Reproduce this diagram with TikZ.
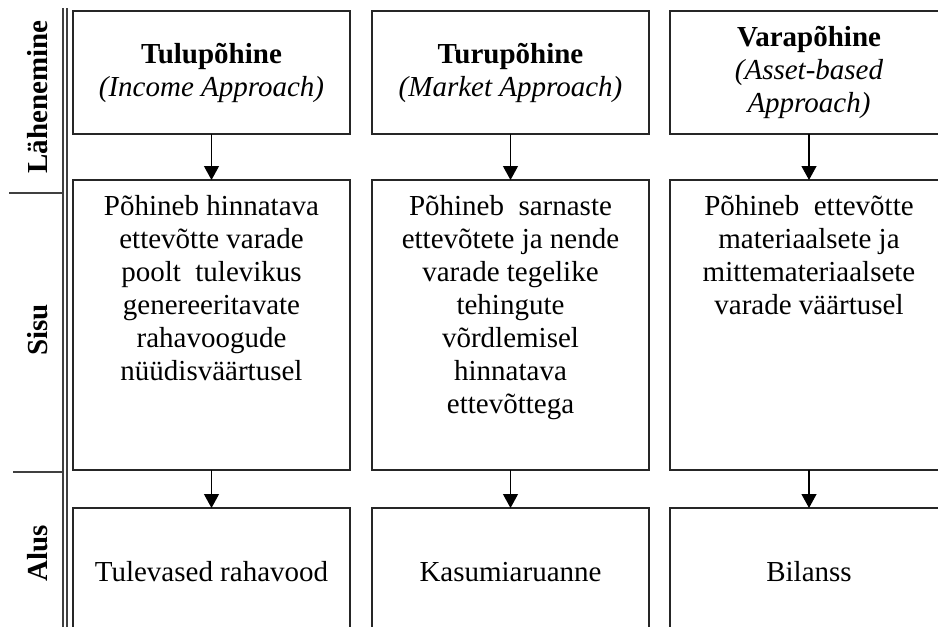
\documentclass[tikz,border=0pt]{standalone}
\usepackage{fontspec}
\setmainfont{Liberation Serif}
\usetikzlibrary{arrows.meta}
\begin{document}
\begin{tikzpicture}[x=1pt,y=-1pt,
  txt/.style={font=\fontsize{29}{33}\selectfont, text=black},
  box/.style={draw=black!85, line width=1.6pt, minimum width=277pt, inner sep=0pt, outer sep=0pt, txt, align=center},
  body/.style={txt, align=center, inner sep=0pt, anchor=north},
  lab/.style={font=\fontsize{29}{33}\selectfont\bfseries, rotate=90, inner sep=0pt},
  arr/.style={draw=black, line width=1.2pt, -{Triangle[width=15pt,length=14pt]}},
  rule/.style={draw=black!75, line width=1.3pt}
]
\useasboundingbox (0,0) rectangle (938,627);
\clip (0,0) rectangle (938,627);

% left bar
\coordinate (va) at (63,8);
\coordinate (vb) at (63,627);
\coordinate (wa) at (67,8);
\coordinate (wb) at (67,627);
\draw[rule] (va) -- (vb);
\draw[rule] (wa) -- (wb);
\coordinate (s1a) at (9,193);
\coordinate (s1b) at (63,193);
\coordinate (s2a) at (13,472);
\coordinate (s2b) at (63,472);
\draw[rule] (s1a) -- (s1b);
\draw[rule] (s2a) -- (s2b);
\node[lab] (l1) at (38,97) {Lähenemine};
\node[lab] (l2) at (38,330) {Sisu};
\node[lab] (l3) at (38,553) {Alus};

% top boxes
\node[box, minimum height=123pt] (t1) at (211.5,72.5) {\textbf{Tulupõhine}\\\textit{(Income Approach)}};
\node[box, minimum height=123pt] (t2) at (510.5,72.5) {\textbf{Turupõhine}\\\textit{(Market Approach)}};
\node[box, minimum height=123pt, minimum width=278pt] (t3) at (809,72.5) {\textbf{Varapõhine}\\\textit{(Asset-based}\\\textit{Approach)}};

% middle boxes
\node[box, minimum height=290pt] (m1) at (211.5,325) {};
\node[box, minimum height=290pt] (m2) at (510.5,325) {};
\node[box, minimum height=290pt, minimum width=278pt] (m3) at (809,325) {};
\node[body] (m1t) at ([yshift=-15pt]m1.north) {Põhineb hinnatava\\ettevõtte varade\\poolt\ \ tulevikus\\genereeritavate\\rahavoogude\\nüüdisväärtusel};
\node[body] (m2t) at ([yshift=-15pt]m2.north) {Põhineb\ \ sarnaste\\ettevõtete ja nende\\varade tegelike\\tehingute\\võrdlemisel\\hinnatava\\ettevõttega};
\node[body] (m3t) at ([yshift=-15pt]m3.north) {Põhineb\ \ ettevõtte\\materiaalsete ja\\mittemateriaalsete\\varade väärtusel};

% bottom boxes
\node[box, minimum height=128pt] (b1) at (211.5,572) {Tulevased rahavood};
\node[box, minimum height=128pt] (b2) at (510.5,572) {Kasumiaruanne};
\node[box, minimum height=128pt, minimum width=278pt] (b3) at (809,572) {Bilanss};

% arrows
\draw[arr] (t1.south) -- (m1.north);
\draw[arr] (t2.south) -- (m2.north);
\draw[arr] (t3.south) -- (m3.north);
\draw[arr] (m1.south) -- (b1.north);
\draw[arr] (m2.south) -- (b2.north);
\draw[arr] (m3.south) -- (b3.north);
\end{tikzpicture}
\end{document}
